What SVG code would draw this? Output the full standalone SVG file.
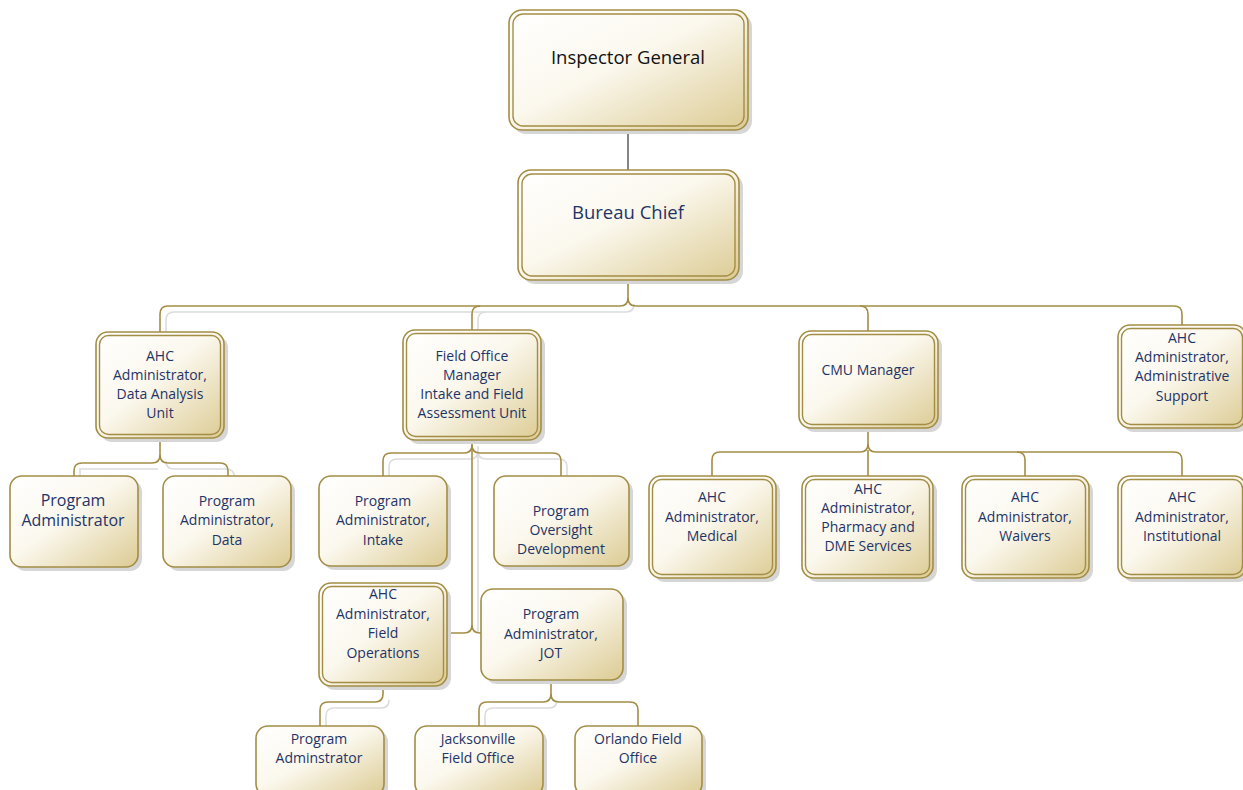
<svg xmlns="http://www.w3.org/2000/svg" width="1243" height="790" viewBox="0 0 1243 790">
<defs>
<linearGradient id="g" x1="0" y1="0" x2="1" y2="1">
<stop offset="0" stop-color="#ffffff"/>
<stop offset="0.45" stop-color="#fbf8ee"/>
<stop offset="1" stop-color="#dccb93"/>
</linearGradient>
</defs>
<style>
.sh{fill:#d6d6d6}
.o{fill:url(#g);stroke:#a38d45;stroke-width:1.6}
.i{fill:none;stroke:#a38d45;stroke-width:1.4}
.c{fill:none;stroke:#a38d45;stroke-width:1.6}
.cs{fill:none;stroke:#dcdcdc;stroke-width:1.6}
text{font-family:"Open Sans","Noto Sans",sans-serif;font-size:14px;fill:#1f3466;text-anchor:middle}
.big{font-size:18.5px}
.k{fill:#111}
</style>
<g id="connectors">
<g transform="translate(6,6)">
<path class="cs" d="M628,298 Q628,306 620,306 H168 Q160,306 160,314 V326"/>
<path class="cs" d="M480,306 Q472,306 472,314 V324"/>
<path class="cs" d="M160,455 Q160,463 168,463 H220 Q228,463 228,470"/>
<path class="cs" d="M74,470 V463 Q74,463 82,463 H152"/>
<path class="cs" d="M472,445 Q472,453 464,453 H391 Q383,453 383,461 V470"/>
<path class="cs" d="M472,445 Q472,453 480,453 H553 Q561,453 561,461 V470"/>
<path class="cs" d="M472,440 V627"/>
<path class="cs" d="M383,694 Q383,702 375,702 H328 Q320,702 320,710 V720"/>
<path class="cs" d="M551,694 Q551,702 543,702 H487 Q479,702 479,710 V720"/>
</g>
<path d="M628,130 V170" fill="none" stroke="#444" stroke-width="1.3"/>
<path class="c" d="M628,280 V298 Q628,306 620,306 H168 Q160,306 160,314 V332"/>
<path class="c" d="M628,298 Q628,306 636,306 H1174 Q1182,306 1182,314 V325"/>
<path class="c" d="M480,306 Q472,306 472,314 V330"/>
<path class="c" d="M860,306 Q868,306 868,314 V331"/>
<path class="c" d="M160,438 V455 Q160,463 152,463 H82 Q74,463 74,471 V476"/>
<path class="c" d="M160,455 Q160,463 168,463 H220 Q228,463 228,471 V476"/>
<path class="c" d="M472,440 V625 Q472,633 464,633 H447"/>
<path class="c" d="M472,625 Q472,633 480,633 H481"/>
<path class="c" d="M472,445 Q472,453 464,453 H391 Q383,453 383,461 V476"/>
<path class="c" d="M472,445 Q472,453 480,453 H553 Q561,453 561,461 V476"/>
<path class="c" d="M383,686 V694 Q383,702 375,702 H328 Q320,702 320,710 V726"/>
<path class="c" d="M551,680 V694 Q551,702 543,702 H487 Q479,702 479,710 V726"/>
<path class="c" d="M551,694 Q551,702 559,702 H630 Q638,702 638,710 V726"/>
<path class="c" d="M868,428 V444 Q868,452 860,452 H720 Q712,452 712,460 V476"/>
<path class="c" d="M868,444 Q868,452 876,452 H1174 Q1182,452 1182,460 V476"/>
<path class="c" d="M868,450 V476"/>
<path class="c" d="M1017,452 Q1025,452 1025,460 V476"/>
</g>

<g id="inspector-general">
<rect class="sh" x="513" y="14" width="239" height="120" rx="13"/>
<rect class="o" x="509" y="10" width="239" height="120" rx="13"/>
<rect class="i" x="513" y="14" width="231" height="112" rx="10"/>
<text class="big k" x="628" y="64">Inspector General</text>
</g>

<g id="bureau-chief">
<rect class="sh" x="522" y="174" width="221" height="110" rx="13"/>
<rect class="o" x="518" y="170" width="221" height="110" rx="13"/>
<rect class="i" x="522" y="174" width="213" height="102" rx="10"/>
<text class="big" x="628" y="219">Bureau Chief</text>
</g>

<g id="ahc-data-analysis">
<rect class="sh" x="100" y="336" width="128" height="106" rx="12"/>
<rect class="o" x="96" y="332" width="128" height="106" rx="12"/>
<rect class="i" x="99.5" y="335.5" width="121" height="99" rx="9"/>
<text x="160" y="361">AHC</text>
<text x="160" y="380">Administrator,</text>
<text x="160" y="399">Data Analysis</text>
<text x="160" y="418">Unit</text>
</g>

<g id="program-administrator">
<rect class="sh" x="14" y="480" width="128" height="91" rx="12"/>
<rect class="o" x="10" y="476" width="128" height="91" rx="12"/>
<text x="73" y="506" style="font-size:16px">Program</text>
<text x="73" y="526" style="font-size:16px">Administrator</text>
</g>

<g id="program-administrator-data">
<rect class="sh" x="167" y="480" width="128" height="91" rx="12"/>
<rect class="o" x="163" y="476" width="128" height="91" rx="12"/>
<text x="227" y="506">Program</text>
<text x="227" y="525">Administrator,</text>
<text x="227" y="545">Data</text>
</g>

<g id="field-office-manager">
<rect class="sh" x="407" y="334" width="138" height="110" rx="12"/>
<rect class="o" x="403" y="330" width="138" height="110" rx="12"/>
<rect class="i" x="406.5" y="333.5" width="131" height="103" rx="9"/>
<text x="472" y="361">Field Office</text>
<text x="472" y="380">Manager</text>
<text x="472" y="399">Intake and Field</text>
<text x="472" y="418">Assessment Unit</text>
</g>

<g id="program-administrator-intake">
<rect class="sh" x="323" y="480" width="128" height="90" rx="12"/>
<rect class="o" x="319" y="476" width="128" height="90" rx="12"/>
<text x="383" y="506">Program</text>
<text x="383" y="525">Administrator,</text>
<text x="383" y="545">Intake</text>
</g>

<g id="program-oversight-development">
<rect class="sh" x="498" y="480" width="135" height="90" rx="12"/>
<rect class="o" x="494" y="476" width="135" height="90" rx="12"/>
<text x="561" y="516">Program</text>
<text x="561" y="535">Oversight</text>
<text x="561" y="554">Development</text>
</g>

<g id="ahc-field-operations">
<rect class="sh" x="323" y="587" width="128" height="103" rx="12"/>
<rect class="o" x="319" y="583" width="128" height="103" rx="12"/>
<rect class="i" x="322.5" y="586.5" width="121" height="96" rx="9"/>
<text x="383" y="599">AHC</text>
<text x="383" y="619">Administrator,</text>
<text x="383" y="638">Field</text>
<text x="383" y="658">Operations</text>
</g>

<g id="program-administrator-jot">
<rect class="sh" x="485" y="593" width="142" height="91" rx="12"/>
<rect class="o" x="481" y="589" width="142" height="91" rx="12"/>
<text x="551" y="619">Program</text>
<text x="551" y="639">Administrator,</text>
<text x="551" y="658">JOT</text>
</g>

<g id="program-adminstrator">
<rect class="sh" x="260" y="730" width="128" height="70" rx="12"/>
<rect class="o" x="256" y="726" width="128" height="70" rx="12"/>
<text x="319" y="744">Program</text>
<text x="319" y="763">Adminstrator</text>
</g>

<g id="jacksonville-field-office">
<rect class="sh" x="419" y="730" width="128" height="70" rx="12"/>
<rect class="o" x="415" y="726" width="128" height="70" rx="12"/>
<text x="478" y="744">Jacksonville</text>
<text x="478" y="763">Field Office</text>
</g>

<g id="orlando-field-office">
<rect class="sh" x="579" y="730" width="127" height="70" rx="12"/>
<rect class="o" x="575" y="726" width="127" height="70" rx="12"/>
<text x="638" y="744">Orlando Field</text>
<text x="638" y="763">Office</text>
</g>

<g id="cmu-manager">
<rect class="sh" x="803" y="335" width="139" height="97" rx="12"/>
<rect class="o" x="799" y="331" width="139" height="97" rx="12"/>
<rect class="i" x="802.5" y="334.5" width="132" height="90" rx="9"/>
<text x="868" y="375">CMU Manager</text>
</g>

<g id="ahc-administrative-support">
<rect class="sh" x="1122" y="329" width="128" height="103" rx="12"/>
<rect class="o" x="1118" y="325" width="128" height="103" rx="12"/>
<rect class="i" x="1121.5" y="328.5" width="121" height="96" rx="9"/>
<text x="1182" y="343">AHC</text>
<text x="1182" y="362">Administrator,</text>
<text x="1182" y="381">Administrative</text>
<text x="1182" y="401">Support</text>
</g>

<g id="ahc-medical">
<rect class="sh" x="653" y="480" width="127" height="102" rx="12"/>
<rect class="o" x="649" y="476" width="127" height="102" rx="12"/>
<rect class="i" x="652.5" y="479.5" width="120" height="95" rx="9"/>
<text x="712" y="502">AHC</text>
<text x="712" y="522">Administrator,</text>
<text x="712" y="541">Medical</text>
</g>

<g id="ahc-pharmacy">
<rect class="sh" x="806" y="480" width="131" height="102" rx="12"/>
<rect class="o" x="802" y="476" width="131" height="102" rx="12"/>
<rect class="i" x="805.5" y="479.5" width="124" height="95" rx="9"/>
<text x="868" y="494">AHC</text>
<text x="868" y="513">Administrator,</text>
<text x="868" y="532">Pharmacy and</text>
<text x="868" y="551">DME Services</text>
</g>

<g id="ahc-waivers">
<rect class="sh" x="966" y="480" width="127" height="102" rx="12"/>
<rect class="o" x="962" y="476" width="127" height="102" rx="12"/>
<rect class="i" x="965.5" y="479.5" width="120" height="95" rx="9"/>
<text x="1025" y="502">AHC</text>
<text x="1025" y="522">Administrator,</text>
<text x="1025" y="541">Waivers</text>
</g>

<g id="ahc-institutional">
<rect class="sh" x="1122" y="480" width="128" height="102" rx="12"/>
<rect class="o" x="1118" y="476" width="128" height="102" rx="12"/>
<rect class="i" x="1121.5" y="479.5" width="121" height="95" rx="9"/>
<text x="1182" y="502">AHC</text>
<text x="1182" y="522">Administrator,</text>
<text x="1182" y="541">Institutional</text>
</g>
</svg>
